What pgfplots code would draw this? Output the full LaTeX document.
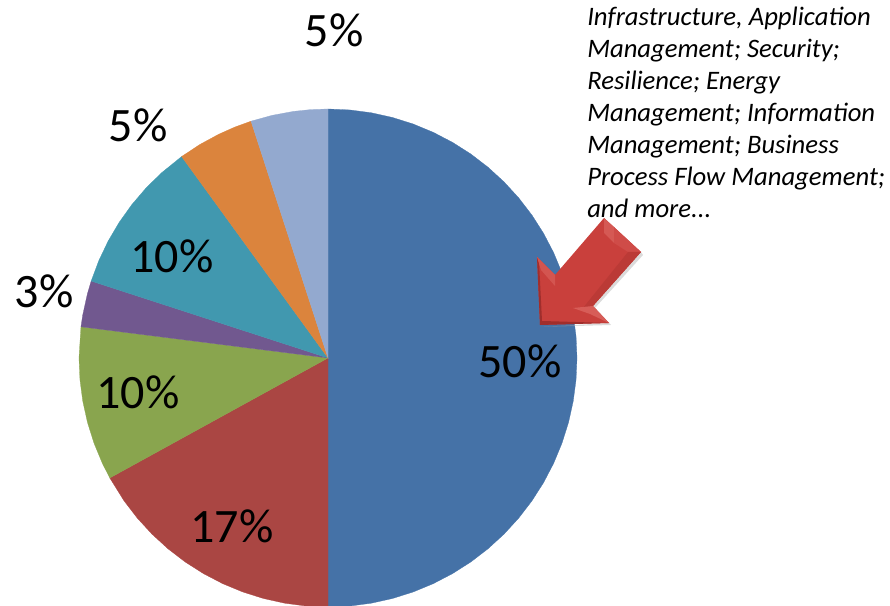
\documentclass[border=0pt]{standalone}
\usepackage{pgfplots}
\pgfplotsset{compat=1.18}
\usepackage{fontspec}
\setmainfont{Carlito}
\definecolor{cA}{HTML}{4572A7}
\definecolor{cB}{HTML}{AA4643}
\definecolor{cC}{HTML}{89A54E}
\definecolor{cD}{HTML}{71588F}
\definecolor{cE}{HTML}{4198AF}
\definecolor{cF}{HTML}{DB843D}
\definecolor{cG}{HTML}{93A9CF}
\definecolor{arrA}{HTML}{C9403C}
\definecolor{arrB}{HTML}{DD6A64}
\definecolor{arrC}{HTML}{A02E2C}
\begin{document}
\begin{tikzpicture}
\path[use as bounding box] (0,0) rectangle (667.5pt,454.5pt);
\begin{axis}[
  at={(0,0)},anchor=south west,
  x=0.75pt,y=0.75pt,
  xmin=-328,xmax=562,ymin=-248,ymax=358,
  hide axis,clip=false,
  data cs=polar,
  every axis plot/.append style={line width=0.2pt},
]
% wedges: (angle, radius), shares 50, 17, 10, 3, 10, 5, 5 %
\addplot[fill=cA,draw=cA] coordinates {(0,0)(90,249)(85,249)(80,249)(75,249)(70,249)(65,249)(60,249)(55,249)(50,249)(45,249)(40,249)(35,249)(30,249)(25,249)(20,249)(15,249)(10,249)(5,249)(0,249)(-5,249)(-10,249)(-15,249)(-20,249)(-25,249)(-30,249)(-35,249)(-40,249)(-45,249)(-50,249)(-55,249)(-60,249)(-65,249)(-70,249)(-75,249)(-80,249)(-85,249)(-90,249)} -- cycle;
\addplot[fill=cB,draw=cB] coordinates {(0,0)(-90,249)(-95,249)(-100,249)(-105,249)(-110,249)(-115,249)(-120,249)(-125,249)(-130,249)(-135,249)(-140,249)(-145,249)(-151.2,249)} -- cycle;
\addplot[fill=cC,draw=cC] coordinates {(0,0)(-151.2,249)(-155,249)(-160,249)(-165,249)(-170,249)(-175,249)(-180,249)(-187.2,249)} -- cycle;
\addplot[fill=cD,draw=cD] coordinates {(0,0)(-187.2,249)(-190,249)(-195,249)(-198,249)} -- cycle;
\addplot[fill=cE,draw=cE] coordinates {(0,0)(162,249)(157,249)(152,249)(147,249)(142,249)(137,249)(132,249)(126,249)} -- cycle;
\addplot[fill=cF,draw=cF] coordinates {(0,0)(126,249)(121,249)(116,249)(112,249)(108,249)} -- cycle;
\addplot[fill=cG,draw=cG] coordinates {(0,0)(108,249)(103,249)(98,249)(94,249)(90,249)} -- cycle;

% percentage labels
\def\lab#1#2#3{\node[font=\fontsize{36}{36}\selectfont,text=black,inner sep=0pt,anchor=center] at (axis cs:#1,#2) {#3};}
\lab{6}{328}{5\%}
\lab{-190}{233}{5\%}
\lab{-284}{67}{3\%}
\lab{-156}{102}{10\%}
\lab{-190}{-34}{10\%}
\lab{-96}{-168}{17\%}
\lab{192}{-3}{50\%}

% callout text
\def\ln#1#2{\node[font=\fontsize{20}{20}\selectfont\itshape,text=black,inner sep=0pt,anchor=base west] at (axis cs:259,#1) {#2};}
\ln{332.5}{Infrastructure, Application}
\ln{300.5}{Management; Security;}
\ln{268.5}{Resilience; Energy}
\ln{236.5}{Management; Information}
\ln{204.5}{Management; Business}
\ln{172.5}{Process Flow Management;}
\ln{140.5}{and more...}

% arrow
\fill[black!35,opacity=.4] (axis cs:212,31)--(283,33)--(267,50)--(315,103)--(313,106)--(265,52)--(281,35)--cycle;
\fill[arrA] (axis cs:276,140)--(313,106)--(265,52)--(281,35)--(212,33)--(209,101)--(227,83)--cycle;
\fill[arrB!60!arrA] (axis cs:276,140)--(286,131)--(286,115)--(276,125)--cycle;
\fill[arrB!30!arrA] (axis cs:286,131)--(313,106)--(300,106)--(286,115)--cycle;
\fill[arrC!35!arrA] (axis cs:313,106)--(265,52)--(255,50)--(300,106)--cycle;
\fill[arrB!70!arrA] (axis cs:281,35)--(265,52)--(245,50)--(262,44)--cycle;
\fill[arrC] (axis cs:212,33)--(209,101)--(211,97)--(214,37)--(281,35)--cycle;
\fill[arrB!50!arrA] (axis cs:209,101)--(227,83)--(227,72)--(213,88)--cycle;
\end{axis}
\end{tikzpicture}
\end{document}
